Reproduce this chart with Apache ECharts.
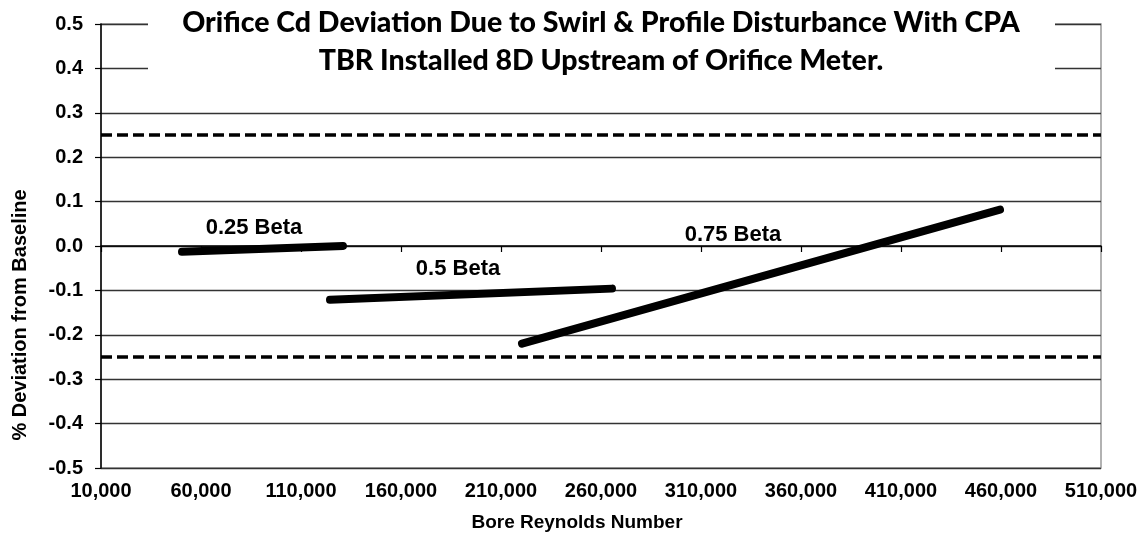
<!DOCTYPE html>
<html>
<head>
<meta charset="utf-8">
<script src="https://cdn.jsdelivr.net/npm/echarts@6/dist/echarts.min.js"></script>
<style>
html,body{margin:0;padding:0;background:#fff;}
#chart{width:1146px;height:541px;}
</style>
</head>
<body>
<div id="chart"></div>
<script>
// ---- data ----
var titleLines = ['Orifice Cd Deviation Due to Swirl & Profile Disturbance With CPA', 'TBR Installed 8D Upstream of Orifice Meter.'];
var xAxisName = 'Bore Reynolds Number';
var yAxisName = '% Deviation from Baseline';
var seriesNames = ['0.25 Beta', '0.5 Beta', '0.75 Beta'];
var beta025X = [50500, 131000];
var beta025Y = [-0.013, 0.000];
var beta05X = [124500, 265500];
var beta05Y = [-0.121, -0.096];
var beta075X = [220500, 459500];
var beta075Y = [-0.220, 0.082];
var limitUpper = 0.25;
var limitLower = -0.25;
// label anchor points (data coordinates) for the series names
var labelAnchorX = [86500, 188500, 326000];
var labelAnchorY = [0.040, -0.052, 0.026];
var xMin = 10000, xMax = 510000, xStep = 50000;
var yMin = -0.5, yMax = 0.5, yStep = 0.1;

function pairs(xs, ys){ return xs.map(function(x,i){ return [x, ys[i]]; }); }
function commas(v){ return String(Math.round(v)).replace(/\B(?=(\d{3})+(?!\d))/g, ','); }

var chart = echarts.init(document.getElementById('chart'));
var lineStyle = {color:'#000', width:8, cap:'round'};
var font = '"Liberation Sans", Arial, sans-serif';
var titleFont = '900 28.5px Lato, "Open Sans", sans-serif';

var option = {
  backgroundColor: '#fff',
  animation: false,
  grid: {left: 101, right: 45, top: 24, bottom: 73, show: true, borderColor: '#999', borderWidth: 1.5, backgroundColor: 'transparent'},
  xAxis: {
    type: 'value', min: xMin, max: xMax, interval: xStep,
    axisLine: {show: true, lineStyle: {color: '#000', width: 1.5}},
    axisTick: {show: true, length: 6, lineStyle: {color: '#000', width: 1.2}},
    splitLine: {show: false},
    axisLabel: {margin: 13, color: '#000', fontFamily: font, fontWeight: 'bold', fontSize: 20, formatter: commas}
  },
  yAxis: {
    type: 'value', min: yMin, max: yMax, interval: yStep,
    axisLine: {show: true, lineStyle: {color: '#000', width: 1.5}},
    axisTick: {show: true, length: 6, lineStyle: {color: '#000', width: 1.2}},
    splitLine: {show: true, lineStyle: {color: '#333', width: 1.3}},
    axisLabel: {margin: 18, color: '#000', fontFamily: font, fontWeight: 'bold', fontSize: 20, formatter: function(v){ return v.toFixed(1); }}
  },
  graphic: [
    {type: 'rect', z: 100, shape: {x: 148, y: 0, width: 907, height: 88}, style: {fill: '#fff'}},
    {type: 'text', z: 101, x: 601, y: 23,
     style: {text: titleLines[0], fill: '#000', font: titleFont, textAlign: 'center', textVerticalAlign: 'middle'}},
    {type: 'text', z: 101, x: 601, y: 61,
     style: {text: titleLines[1], fill: '#000', font: titleFont, textAlign: 'center', textVerticalAlign: 'middle'}},
    {type: 'text', z: 101, x: 20, y: 315, rotation: Math.PI / 2,
     style: {text: yAxisName, fill: '#000', font: 'bold 20px ' + font, textAlign: 'center', textVerticalAlign: 'middle'}},
    {type: 'text', z: 101, x: 577, y: 523,
     style: {text: xAxisName, fill: '#000', font: 'bold 19px ' + font, textAlign: 'center', textVerticalAlign: 'middle'}}
  ],
  series: [
    {name: seriesNames[0], type: 'line', data: pairs(beta025X, beta025Y), symbol: 'none', lineStyle: lineStyle, z: 5,
     markLine: {silent: true, symbol: 'none', label: {show: false},
       lineStyle: {color: '#000', width: 3.5, type: [11, 5]},
       data: [{yAxis: limitUpper}, {yAxis: limitLower}]}},
    {name: seriesNames[1], type: 'line', data: pairs(beta05X, beta05Y), symbol: 'none', lineStyle: lineStyle, z: 5},
    {name: seriesNames[2], type: 'line', data: pairs(beta075X, beta075Y), symbol: 'none', lineStyle: lineStyle, z: 5},
    {name: 'labels', type: 'scatter', symbolSize: 0, silent: true, z: 6,
     itemStyle: {opacity: 1, color: 'rgba(0,0,0,0)'},
     data: labelAnchorX.map(function(x, i){ return {value: [x, labelAnchorY[i]], name: seriesNames[i]}; }),
     label: {show: true, position: 'inside', formatter: '{b}', color: '#000', opacity: 1, textBorderWidth: 0,
             fontFamily: font, fontWeight: 'bold', fontSize: 22}}
  ]
};
chart.setOption(option);
</script>
</body>
</html>
